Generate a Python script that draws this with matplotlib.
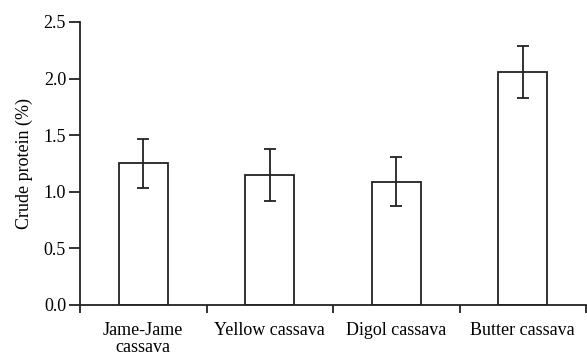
import numpy as np
import matplotlib
matplotlib.use('Agg')
import matplotlib.pyplot as plt

# data
varieties = ['Jame-Jame\ncassava', 'Yellow cassava', 'Digol cassava', 'Butter cassava']
protein = [1.25, 1.15, 1.09, 2.06]
err = [0.22, 0.23, 0.22, 0.23]

plt.rcParams['font.family'] = ['Liberation Serif', 'DejaVu Serif']
plt.rcParams['font.size'] = 13

fig = plt.figure(figsize=(5.87, 3.56), dpi=100)
ax = fig.add_axes([0.1363, 0.1433, 0.862, 0.795])

x = np.arange(len(varieties)) + 0.5
ink = '#222222'
ax.bar(x, protein, width=0.39, color='white', edgecolor=ink, linewidth=1.3, zorder=2)
ax.errorbar(x, protein, yerr=err, fmt='none', ecolor=ink, elinewidth=1.3,
            capsize=4, capthick=1.3, zorder=3)

ax.set_xlim(0, 4)
ax.set_ylim(0, 2.5)
ax.set_yticks(np.arange(0, 2.51, 0.5))
ax.set_yticklabels(['%.1f' % v for v in np.arange(0, 2.51, 0.5)])
ax.set_xticks(x)
ax.set_xticklabels(varieties, linespacing=1.0)
ax.set_xticks(np.arange(0, 5), minor=True)
ax.tick_params(axis='x', which='major', length=0, pad=12)
ax.tick_params(axis='x', which='minor', length=6, width=1.3, color=ink, direction='out')
ax.tick_params(axis='y', length=8, width=1.3, color=ink, pad=2)
ax.set_ylabel('Crude protein (%)', labelpad=8)

for s in ['top', 'right']:
    ax.spines[s].set_visible(False)
for s in ['left', 'bottom']:
    ax.spines[s].set_linewidth(1.3)
    ax.spines[s].set_color(ink)

fig.savefig('out.png', dpi=100)
